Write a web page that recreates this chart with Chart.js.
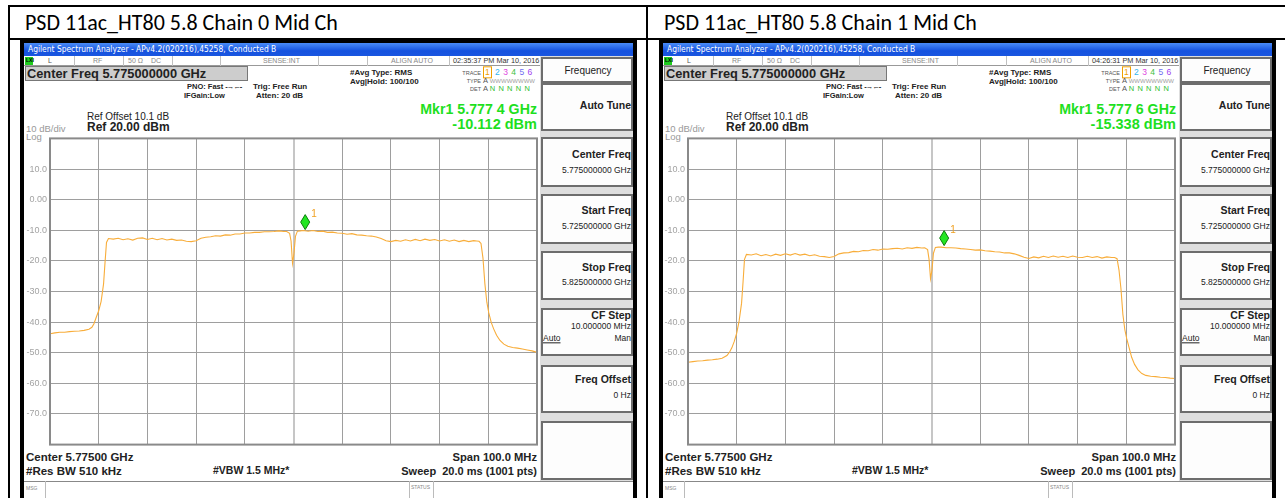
<!DOCTYPE html>
<html><head><meta charset="utf-8">
<script src="https://cdn.jsdelivr.net/npm/chart.js@4.4.1/dist/chart.umd.min.js"></script>
<style>
html,body{margin:0;padding:0;background:#fff;}
body{width:1285px;height:498px;position:relative;overflow:hidden;font-family:"Liberation Sans",Arial,sans-serif;color:#1a1a1a;}
canvas{position:absolute;}
</style></head><body>
<script>
// ---------------- DATA ----------------
const freqMHz = [
  5725,5726,5727,5728,5729,5730,5731,5732,5733,5733.6,5734,5734.5,5735,5735.5,5736,5736.3,5736.6,5737,
  5738,5739,5740,5741,5742,5743,5744,5745,5746,5747,5748,5749,5750,5751,5752,5753,5754,5755,
  5756,5757,5758,5759,5760,5761,5762,5763,5764,5765,5766,5767,5768,5769,5770,5771,5772,5773,
  5773.6,5774.2,5774.5,5774.8,5775.1,5775.4,5775.8,5776.4,
  5777,5778,5779,5780,5781,5782,5783,5784,5785,5786,5787,5788,5789,5790,5791,5792,5793,5794,
  5795,5796,5797,5798,5799,5800,5801,5802,5803,5804,5805,5806,5807,5808,5809,5810,5811,5812,
  5812.6,5813.1,5813.5,5813.9,5814.3,5814.7,5815.1,5815.6,5816.1,5816.7,5817.4,5818.2,5819,5820,5821,5822,5823,5824,5825
];
const chain0dBm = [
  -43.8,-43.5,-43.3,-43.3,-43.1,-43.0,-42.9,-42.7,-42.3,-41.7,-40.6,-38.4,-36.3,-33.2,-27.5,-20.5,-14.0,-12.7,
  -12.9,-12.6,-13.1,-12.8,-13.2,-12.6,-12.5,-13.0,-12.6,-13.1,-12.7,-13.2,-12.9,-13.3,-13.2,-13.6,-13.7,-13.4,
  -12.6,-12.3,-12.1,-11.8,-11.9,-11.5,-11.6,-11.2,-11.2,-10.9,-10.9,-10.7,-10.7,-10.5,-10.5,-10.4,-10.2,-10.4,
  -10.4,-11.0,-13.5,-20.8,-17.5,-12.0,-10.3,-10.2,
  -10.1,-10.3,-10.1,-10.4,-10.3,-10.7,-10.6,-10.9,-11.0,-11.3,-11.1,-11.5,-11.6,-11.8,-11.9,-12.2,-12.7,-13.4,
  -13.7,-13.3,-13.6,-13.1,-13.5,-13.0,-13.4,-12.9,-13.3,-13.0,-13.5,-13.1,-13.6,-13.2,-13.7,-13.3,-13.7,-13.4,
  -13.5,-13.6,-14.3,-19.0,-27.5,-33.5,-37.0,-40.1,-42.2,-44.3,-46.0,-47.2,-47.9,-48.3,-48.5,-48.8,-49.1,-49.4,-49.9
];
const chain1dBm = [
  -53.1,-52.9,-52.7,-52.6,-52.4,-52.3,-52.1,-51.8,-50.9,-49.6,-48.4,-46.3,-43.6,-39.6,-33.8,-27.0,-19.5,-17.9,
  -18.1,-17.7,-18.3,-17.9,-18.4,-17.8,-18.2,-17.7,-18.1,-17.6,-18.1,-17.8,-18.3,-18.0,-18.5,-18.6,-18.9,-18.6,
  -17.7,-17.4,-17.3,-16.9,-17.0,-16.6,-16.7,-16.3,-16.5,-16.1,-16.2,-16.0,-15.9,-16.1,-15.7,-15.9,-15.6,-15.8,
  -15.7,-16.3,-19.5,-25.8,-23.0,-17.5,-15.6,-15.5,
  -15.5,-15.7,-15.7,-15.8,-16.0,-16.1,-16.3,-16.5,-16.4,-16.7,-16.8,-17.0,-17.1,-17.4,-17.4,-17.7,-18.2,-18.8,
  -19.2,-18.7,-19.0,-18.5,-18.9,-18.4,-18.8,-18.5,-18.9,-18.4,-18.8,-18.9,-18.5,-18.9,-18.6,-19.1,-18.7,-18.9,
  -18.9,-19.3,-23.0,-29.0,-37.5,-42.5,-45.5,-48.5,-51.5,-53.8,-55.6,-56.8,-57.4,-57.7,-57.8,-58.0,-58.1,-58.3,-58.4
];
const markerFreqMHz = [5777.4, 5777.6];
const markerdBm = [-10.112, -15.338];
const xGridMHz = [5725,5735,5745,5755,5765,5775,5785,5795,5805,5815,5825];
const yTickValues = [-80,-70,-60,-50,-40,-30,-20,-10,0,10,20];
const yTickLabels = ["","-70.0","-60.0","-50.0","-40.0","-30.0","-20.0","-10.0","0.00","10.0",""];
const headers = ["PSD 11ac_HT80 5.8 Chain 0 Mid Ch","PSD 11ac_HT80 5.8 Chain 1 Mid Ch"];
const timestamps = ["02:35:37 PM Mar 10, 2016","04:26:31 PM Mar 10, 2016"];
const markerFreqText = ["Mkr1 5.777 4 GHz","Mkr1 5.777 6 GHz"];
const markerAmpText = ["-10.112 dBm","-15.338 dBm"];

// ---------------- helpers ----------------
function el(tag, css, html){const e=document.createElement(tag);e.style.cssText=css;if(html!==undefined)e.innerHTML=html;document.body.appendChild(e);return e;}
function box(x,y,w,h,css){return el('div',`position:absolute;left:${x}px;top:${y}px;width:${w}px;height:${h}px;box-sizing:border-box;${css||''}`);}
function txt(x,yc,s,size,css,align){
  const tr=align==='r'?'translate(-100%,-50%)':align==='c'?'translate(-50%,-50%)':'translateY(-50%)';
  return el('div',`position:absolute;left:${x}px;top:${yc}px;transform:${tr};font-size:${size}px;line-height:1.1;white-space:nowrap;${css||''}`,s);
}

// table lines
box(8,5,1277,2,'background:#000');
box(8,5,2,493,'background:#000');
box(8,38,1277,2,'background:#000');
box(646,5,2,493,'background:#000');

function buildScreen(i, dx){
  txt(25+dx,23,headers[i],22,'font-family:Carlito,"Open Sans",sans-serif;color:#000');
  box(20+dx,40,617,458,'background:#000');
  box(24+dx,43,609,455,'background:#fff');
  box(24+dx,43,609,13,'background:linear-gradient(#4a8cf7,#1552df 60%,#1a56e0)');
  txt(28+dx,49.5,'Agilent Spectrum Analyzer - APv4.2(020216),45258, Conducted B',8.4,'color:#fff;font-family:"DejaVu Sans Condensed","Liberation Sans";');
  // status row
  box(24+dx,56,516,10,'background:#fff;border-bottom:1px solid #999');
  [74,123,172,220,318,367,449].forEach(x=>box(x+dx,56,1,10,'background:#c0c0c0'));
  box(25+dx,57,8,8,'background:#1ecc1e');
  txt(26+dx,61,'LXI',5,'color:#000;font-weight:bold');
  txt(48+dx,61,'L',7,'color:#555');
  txt(93+dx,61,'RF',7,'color:#888');
  txt(128+dx,61,'50 Ω',7,'color:#888');
  txt(151+dx,61,'DC',7,'color:#888');
  txt(263+dx,61,'SENSE:INT',7,'color:#888');
  txt(391+dx,61,'ALIGN AUTO',7,'color:#888');
  txt(453+dx,61,timestamps[i],7.3,'color:#333');
  // center freq box
  box(25+dx,66,223,15,'background:#cdcdcd;border:1px solid #777');
  txt(27+dx,74,'Center Freq 5.775000000 GHz',12.8,'font-weight:bold;color:#222');
  txt(187+dx,87,'PNO: Fast <span style="letter-spacing:-1px">-→←-</span>',7.5,'font-weight:bold;color:#222');
  txt(184+dx,96,'IFGain:Low',7.5,'font-weight:bold;color:#222');
  txt(253+dx,87,'Trig: Free Run',8,'font-weight:bold;color:#222');
  txt(256+dx,96,'Atten: 20 dB',8,'font-weight:bold;color:#222');
  txt(350+dx,73,'#Avg Type: RMS',8,'font-weight:bold;color:#222');
  txt(350+dx,82,'Avg|Hold: 100/100',8,'font-weight:bold;color:#222');
  txt(481+dx,73,'TRACE',5.5,'color:#555','r');
  txt(481+dx,81,'TYPE',5.5,'color:#555','r');
  txt(481+dx,89,'DET',5.5,'color:#555','r');
  txt(483+dx,73,'<span style="color:#f0a000;border:1px solid #f0a000;padding:0 1px">1</span> <span style="color:#2fb6f0">2</span> <span style="color:#e040e0">3</span> <span style="color:#40c040">4</span> <span style="color:#7070f0">5</span> <span style="color:#a040f0">6</span>',8.5,'letter-spacing:0.5px');
  txt(483+dx,81,'<span style="color:#555">A</span> <span style="color:#a0a0a0;font-size:6px">WWWWWWWW</span>',7.5,'');
  txt(483+dx,89,'<span style="color:#555">A</span> <span style="color:#30c030;letter-spacing:0.6px">N N N N N</span>',7.5,'');
  txt(537+dx,110,markerFreqText[i],14.2,'color:#1ee01e;font-weight:bold','r');
  txt(537+dx,125,markerAmpText[i],14.5,'color:#1ee01e;font-weight:bold','r');
  txt(87+dx,116,'Ref Offset 10.1 dB',10,'color:#222');
  txt(87+dx,128,'Ref 20.00 dBm',12,'font-weight:bold;color:#222');
  txt(26+dx,129,'10 dB/div',9.5,'color:#999');
  txt(26+dx,137,'Log',9.5,'color:#999');
  // bottom texts
  txt(26+dx,457,'Center 5.77500 GHz',11.5,'font-weight:bold;color:#222');
  txt(26+dx,471,'#Res BW 510 kHz',11.5,'font-weight:bold;color:#222');
  txt(213+dx,471,'#VBW 1.5 MHz*',10.5,'font-weight:bold;color:#222');
  txt(537+dx,457,'Span 100.0 MHz',11.2,'font-weight:bold;color:#222','r');
  txt(537+dx,471,'Sweep&nbsp; 20.0 ms (1001 pts)',11,'font-weight:bold;color:#222','r');
  // msg row
  box(24+dx,481,609,17,'background:#fff;border-top:1px solid #888');
  box(45+dx,481,1,17,'background:#bbb');
  box(409+dx,481,1,17,'background:#bbb');
  box(433+dx,481,1,17,'background:#bbb');
  txt(26+dx,489,'MSG',5,'color:#888');
  txt(411+dx,488,'STATUS',5,'color:#888');
  // right panel
  box(540+dx,56,93,425,'background:#dedede');
  const btn=(y0,y1)=>box(541+dx,y0,92,y1-y0,'background:#fdfdfd;border:2px solid #6d6d6d');
  btn(57,83); txt(588+dx,70,'Frequency',10,'color:#222','c');
  btn(83,131); txt(631+dx,106,'Auto Tune',10.5,'font-weight:bold;color:#222','r');
  btn(137,187); txt(631+dx,155,'Center Freq',10.5,'font-weight:bold;color:#222','r'); txt(631+dx,171,'5.775000000 GHz',8.5,'color:#222','r');
  btn(194,244); txt(631+dx,211,'Start Freq',10.5,'font-weight:bold;color:#222','r'); txt(631+dx,227,'5.725000000 GHz',8.5,'color:#222','r');
  btn(251,300); txt(631+dx,268,'Stop Freq',10.5,'font-weight:bold;color:#222','r'); txt(631+dx,283,'5.825000000 GHz',8.5,'color:#222','r');
  btn(308,356); txt(631+dx,316,'CF Step',10.5,'font-weight:bold;color:#222','r'); txt(631+dx,327,'10.000000 MHz',8.5,'color:#222','r');
  txt(543+dx,339,'<u>Auto</u>',8.5,'color:#222'); txt(631+dx,339,'Man',8.5,'color:#222','r');
  btn(365,413); txt(631+dx,380,'Freq Offset',10.5,'font-weight:bold;color:#222','r'); txt(631+dx,396,'0 Hz',8.5,'color:#222','r');
  btn(421,480);
}

const framePlugin={id:'frame',afterDatasetsDraw(chart,args,opts){
  const a=chart.chartArea,c=chart.ctx;
  c.save();c.strokeStyle='#8a8a8a';c.lineWidth=2;c.strokeRect(a.left,a.top,a.right-a.left,a.bottom-a.top);
  // marker diamond
  const mi=chart.options.plugins.frame.mi;
  const xs=chart.scales.x, ys=chart.scales.y;
  const px=xs.getPixelForValue(markerFreqMHz[mi]), py=ys.getPixelForValue(markerdBm[mi])-1;
  c.beginPath();c.moveTo(px,py);c.lineTo(px+4.5,py-7.5);c.lineTo(px,py-15);c.lineTo(px-4.5,py-7.5);c.closePath();
  c.fillStyle='#22e622';c.fill();c.strokeStyle='#0b7d0b';c.lineWidth=1;c.stroke();
  c.fillStyle='#f0a020';c.font='10px "Liberation Sans"';c.textBaseline='middle';c.fillText('1',px+6,py-15);
  c.restore();
}};

function makeChart(i, left){
  const cv=el('canvas',`left:${left}px;top:130px;width:516px;height:323px`);
  cv.width=516;cv.height=323;
  const vals=i===0?chain0dBm:chain1dBm;
  new Chart(cv,{
    type:'line',
    data:{datasets:[{data:freqMHz.map((f,k)=>({x:f,y:vals[k]})),borderColor:'#f8ad3a',borderWidth:1.1,pointRadius:0,tension:0,fill:false}]},
    options:{
      responsive:false,animation:false,devicePixelRatio:1,
      layout:{padding:{top:7,right:3,bottom:4,left:0}},
      plugins:{legend:{display:false},tooltip:{enabled:false},frame:{mi:i}},
      scales:{
        x:{type:'linear',min:5725,max:5825,
           afterBuildTicks:s=>{s.ticks=xGridMHz.map(v=>({value:v}));},
           ticks:{display:false},
           grid:{drawTicks:false,color:ctx=>(ctx.tick&&ctx.tick.value===5775)?'#c6c6c6':'#9e9e9e',lineWidth:ctx=>(ctx.tick&&ctx.tick.value===5775)?2:1},
           border:{display:false},afterFit:s=>{s.height=0;}},
        y:{min:-80,max:20,
           afterBuildTicks:s=>{s.ticks=yTickValues.map(v=>({value:v}));},
           ticks:{callback:v=>yTickLabels[yTickValues.indexOf(v)],color:'#a3a3a3',font:{size:9,family:'Liberation Sans'},padding:3},
           grid:{drawTicks:false,color:'#9e9e9e',lineWidth:1},
           border:{display:false},afterFit:s=>{s.width=26;}}
      }
    },
    plugins:[framePlugin]
  });
}

buildScreen(0,0);
buildScreen(1,639);
makeChart(0,24);
makeChart(1,662);
</script>
</body></html>
